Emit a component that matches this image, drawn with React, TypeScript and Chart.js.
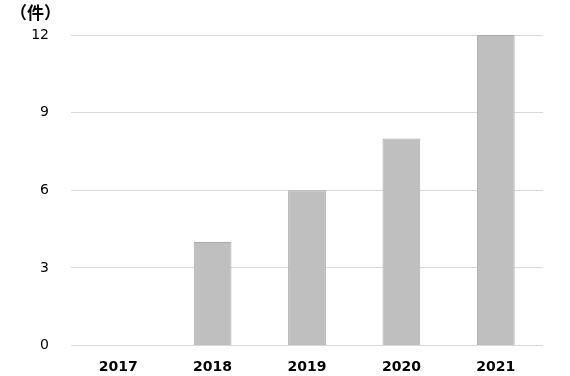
import React, { useEffect, useRef } from "react";
import { Chart, registerables } from "chart.js";

Chart.register(...registerables);

const categories = ["2017", "2018", "2019", "2020", "2021"];
const counts = [0, 4, 6, 8, 12];
const unitLabel = "（件）";

const unitPlugin = {
  id: "unitLabel",
  afterDraw(chart: any) {
    const ctx = chart.ctx;
    ctx.save();
    ctx.font = "bold 17px 'Noto Sans CJK JP', sans-serif";
    ctx.fillStyle = "#000";
    ctx.textAlign = "left";
    ctx.textBaseline = "middle";
    ctx.fillText(unitLabel, 10, 13);
    ctx.restore();
  },
};

export default function App() {
  const ref = useRef<HTMLCanvasElement>(null);
  useEffect(() => {
    if (!ref.current) return;
    const chart = new Chart(ref.current, {
      type: "bar",
      data: {
        labels: categories,
        datasets: [
          {
            data: counts,
            backgroundColor: "#bfbfbf",
            borderColor: "#aaaaaa",
            borderWidth: 1,
            categoryPercentage: 1,
            barPercentage: 0.4,
          },
        ],
      },
      options: {
        animation: false,
        responsive: false,
        layout: { padding: { top: 35, right: 27, bottom: 0, left: 0 } },
        plugins: { legend: { display: false }, tooltip: { enabled: false } },
        scales: {
          x: {
            grid: { display: false, drawTicks: false },
            border: { display: false },
            ticks: {
              padding: 13,
              color: "#000",
              font: { family: "'DejaVu Sans', sans-serif", size: 14, weight: "bold" },
            },
            afterFit(scale: any) {
              scale.height = 29;
            },
          },
          y: {
            min: 0,
            max: 12,
            ticks: {
              stepSize: 3,
              padding: 22,
              color: "#000",
              font: { family: "'DejaVu Sans', sans-serif", size: 14 },
            },
            grid: { color: "#d9d9d9", drawTicks: false },
            border: { display: false },
            afterFit(scale: any) {
              scale.width = 71;
            },
          },
        },
      },
      plugins: [unitPlugin],
    });
    return () => chart.destroy();
  }, []);
  return (
    <div style={{ position: "absolute", left: 0, top: 0, width: 570, height: 376, background: "#fff" }}>
      <canvas ref={ref} width={570} height={376} />
    </div>
  );
}
